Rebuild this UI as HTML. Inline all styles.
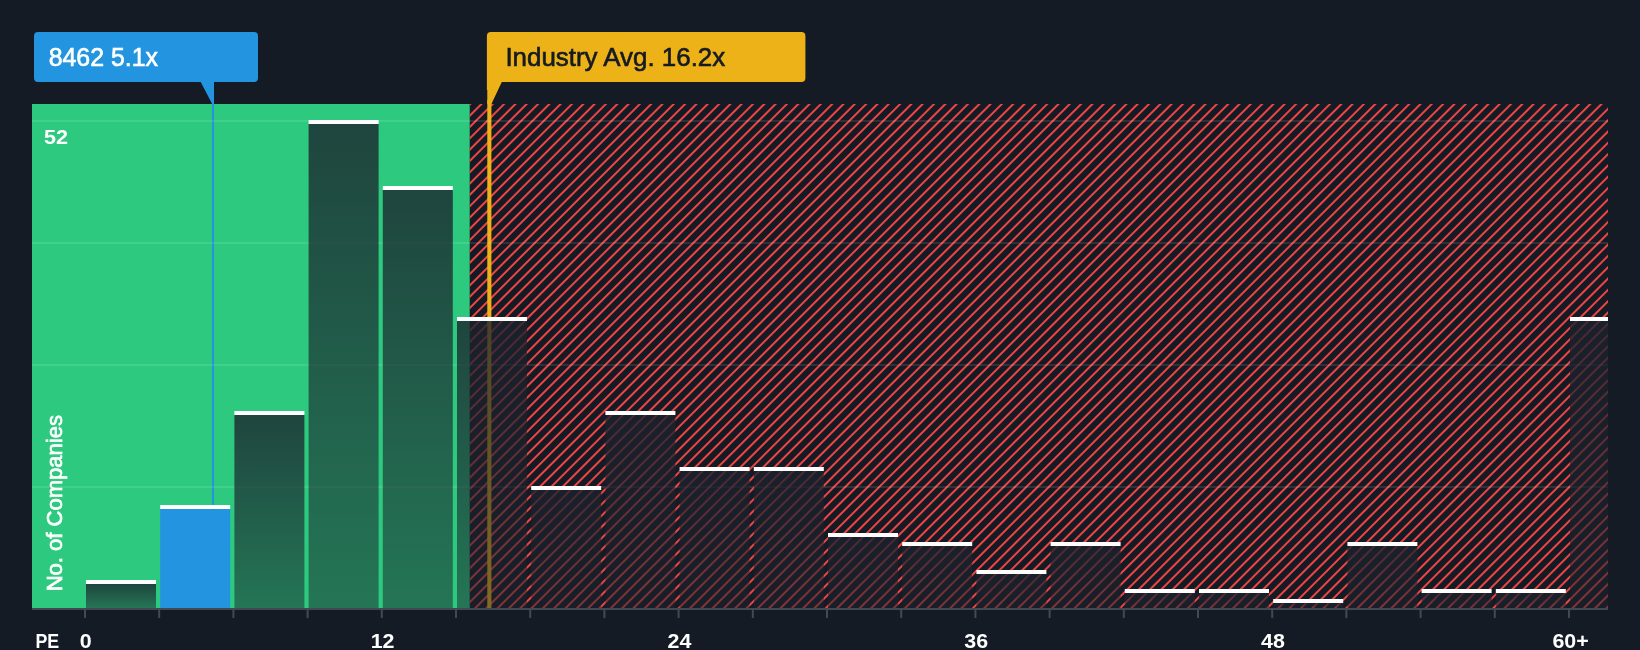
<!DOCTYPE html>
<html><head><meta charset="utf-8"><title>PE chart</title>
<style>html,body{margin:0;padding:0;background:#151b24;}body{width:1640px;height:650px;overflow:hidden;font-family:"Liberation Sans",sans-serif;}svg{display:block;will-change:transform;}text{font-family:"Liberation Sans",sans-serif;}</style>
</head><body>
<svg width="1640" height="650" viewBox="0 0 1640 650">
<defs>
<pattern id="hatch" patternUnits="userSpaceOnUse" width="8" height="8" patternTransform="rotate(45)"><rect x="5.0" y="0" width="2" height="8" fill="#ef4444"/></pattern>
<linearGradient id="bg" x1="0" y1="0" x2="0" y2="1"><stop offset="0" stop-color="#1b222d" stop-opacity="0.79"/><stop offset="1" stop-color="#1b222d" stop-opacity="0.5"/></linearGradient>
</defs>
<rect x="0" y="0" width="1640" height="650" fill="#151b24"/>
<rect x="32" y="104" width="437.7" height="504.0" fill="#2dc97e"/>
<rect x="469.7" y="104" width="1138.3" height="504.0" fill="url(#hatch)"/>
<rect x="487.3" y="100" width="4.1" height="508.0" fill="#eeb219"/>
<rect x="212" y="80" width="2" height="528.0" fill="#2394df"/>
<rect x="32" y="120.0" width="1576" height="2" fill="#ffffff" fill-opacity="0.1"/>
<rect x="32" y="242.0" width="1576" height="2" fill="#ffffff" fill-opacity="0.1"/>
<rect x="32" y="364.0" width="1576" height="2" fill="#ffffff" fill-opacity="0.1"/>
<rect x="32" y="486.0" width="1576" height="2" fill="#ffffff" fill-opacity="0.1"/>
<rect x="86.0" y="584" width="70.0" height="24.0" fill="url(#bg)"/>
<rect x="86.0" y="580" width="70.0" height="4" fill="#ffffff"/>
<rect x="160.2" y="509" width="70.0" height="99.0" fill="#2394df"/>
<rect x="160.2" y="505" width="70.0" height="4" fill="#ffffff"/>
<rect x="234.4" y="415" width="70.0" height="193.0" fill="url(#bg)"/>
<rect x="234.4" y="411" width="70.0" height="4" fill="#ffffff"/>
<rect x="308.6" y="124" width="70.0" height="484.0" fill="url(#bg)"/>
<rect x="308.6" y="120" width="70.0" height="4" fill="#ffffff"/>
<rect x="382.8" y="190" width="70.0" height="418.0" fill="url(#bg)"/>
<rect x="382.8" y="186" width="70.0" height="4" fill="#ffffff"/>
<rect x="457.0" y="321" width="70.0" height="287.0" fill="url(#bg)"/>
<rect x="457.0" y="317" width="70.0" height="4" fill="#ffffff"/>
<rect x="531.2" y="490" width="70.0" height="118.0" fill="url(#bg)"/>
<rect x="531.2" y="486" width="70.0" height="4" fill="#ffffff"/>
<rect x="605.4" y="415" width="70.0" height="193.0" fill="url(#bg)"/>
<rect x="605.4" y="411" width="70.0" height="4" fill="#ffffff"/>
<rect x="679.6" y="471" width="70.0" height="137.0" fill="url(#bg)"/>
<rect x="679.6" y="467" width="70.0" height="4" fill="#ffffff"/>
<rect x="753.8" y="471" width="70.0" height="137.0" fill="url(#bg)"/>
<rect x="753.8" y="467" width="70.0" height="4" fill="#ffffff"/>
<rect x="828.0" y="537" width="70.0" height="71.0" fill="url(#bg)"/>
<rect x="828.0" y="533" width="70.0" height="4" fill="#ffffff"/>
<rect x="902.2" y="546" width="70.0" height="62.0" fill="url(#bg)"/>
<rect x="902.2" y="542" width="70.0" height="4" fill="#ffffff"/>
<rect x="976.4" y="574" width="70.0" height="34.0" fill="url(#bg)"/>
<rect x="976.4" y="570" width="70.0" height="4" fill="#ffffff"/>
<rect x="1050.6" y="546" width="70.0" height="62.0" fill="url(#bg)"/>
<rect x="1050.6" y="542" width="70.0" height="4" fill="#ffffff"/>
<rect x="1124.8" y="593" width="70.0" height="15.0" fill="url(#bg)"/>
<rect x="1124.8" y="589" width="70.0" height="4" fill="#ffffff"/>
<rect x="1199.0" y="593" width="70.0" height="15.0" fill="url(#bg)"/>
<rect x="1199.0" y="589" width="70.0" height="4" fill="#ffffff"/>
<rect x="1273.2" y="603" width="70.0" height="5.0" fill="url(#bg)"/>
<rect x="1273.2" y="599" width="70.0" height="4" fill="#ffffff"/>
<rect x="1347.4" y="546" width="70.0" height="62.0" fill="url(#bg)"/>
<rect x="1347.4" y="542" width="70.0" height="4" fill="#ffffff"/>
<rect x="1421.6" y="593" width="70.0" height="15.0" fill="url(#bg)"/>
<rect x="1421.6" y="589" width="70.0" height="4" fill="#ffffff"/>
<rect x="1495.8" y="593" width="70.0" height="15.0" fill="url(#bg)"/>
<rect x="1495.8" y="589" width="70.0" height="4" fill="#ffffff"/>
<rect x="1570.0" y="321" width="38.0" height="287.0" fill="url(#bg)"/>
<rect x="1570.0" y="317" width="38.0" height="4" fill="#ffffff"/>
<rect x="32" y="608" width="1576" height="2" fill="#444852"/>
<rect x="84.0" y="610" width="2" height="8" fill="#444852"/>
<rect x="158.2" y="610" width="2" height="8" fill="#444852"/>
<rect x="232.4" y="610" width="2" height="8" fill="#444852"/>
<rect x="306.6" y="610" width="2" height="8" fill="#444852"/>
<rect x="380.8" y="610" width="2" height="8" fill="#444852"/>
<rect x="455.0" y="610" width="2" height="8" fill="#444852"/>
<rect x="529.2" y="610" width="2" height="8" fill="#444852"/>
<rect x="603.4" y="610" width="2" height="8" fill="#444852"/>
<rect x="677.6" y="610" width="2" height="8" fill="#444852"/>
<rect x="751.8" y="610" width="2" height="8" fill="#444852"/>
<rect x="826.0" y="610" width="2" height="8" fill="#444852"/>
<rect x="900.2" y="610" width="2" height="8" fill="#444852"/>
<rect x="974.4" y="610" width="2" height="8" fill="#444852"/>
<rect x="1048.6" y="610" width="2" height="8" fill="#444852"/>
<rect x="1122.8" y="610" width="2" height="8" fill="#444852"/>
<rect x="1197.0" y="610" width="2" height="8" fill="#444852"/>
<rect x="1271.2" y="610" width="2" height="8" fill="#444852"/>
<rect x="1345.4" y="610" width="2" height="8" fill="#444852"/>
<rect x="1419.6" y="610" width="2" height="8" fill="#444852"/>
<rect x="1493.8" y="610" width="2" height="8" fill="#444852"/>
<rect x="1568.0" y="610" width="2" height="8" fill="#444852"/>
<g fill="#ffffff" font-weight="700" font-size="20">
<text transform="translate(35.5,648.2) scale(0.89,1)">PE</text>
<text transform="translate(85.8,648.2) scale(1.07,1)" text-anchor="middle">0</text>
<text transform="translate(382.6,648.2) scale(1.07,1)" text-anchor="middle">12</text>
<text transform="translate(679.4,648.2) scale(1.07,1)" text-anchor="middle">24</text>
<text transform="translate(976.2,648.2) scale(1.07,1)" text-anchor="middle">36</text>
<text transform="translate(1273.0,648.2) scale(1.07,1)" text-anchor="middle">48</text>
<text transform="translate(1570.6,648.2) scale(1.07,1)" text-anchor="middle">60+</text>
<text transform="translate(44.1,144.1) scale(1.08,1)">52</text>
</g>
<text transform="translate(61.7,591.3) rotate(-90)" fill="#ffffff" font-size="22.4" stroke="#ffffff" stroke-width="0.7" textLength="176.3" lengthAdjust="spacingAndGlyphs">No. of Companies</text>
<path d="M38 32H254a4 4 0 0 1 4 4V78a4 4 0 0 1 -4 4H214V104H212.2L200.7 82H38a4 4 0 0 1 -4 -4V36a4 4 0 0 1 4 -4Z" fill="#2394df"/>
<text x="48.65" y="66.1" fill="#ffffff" font-size="26.5" stroke="#ffffff" stroke-width="0.65" textLength="109.4" lengthAdjust="spacingAndGlyphs">8462 5.1x</text>
<path d="M490.9 32H801.4a4 4 0 0 1 4 4V78a4 4 0 0 1 -4 4H501.8L491.4 104H487.3V90H486.9V36a4 4 0 0 1 4 -4Z" fill="#eeb219"/>
<text x="505.4" y="65.8" fill="#151b24" font-size="26.5" stroke="#151b24" stroke-width="0.65" textLength="219.8" lengthAdjust="spacingAndGlyphs">Industry Avg. 16.2x</text>
</svg></body></html>
